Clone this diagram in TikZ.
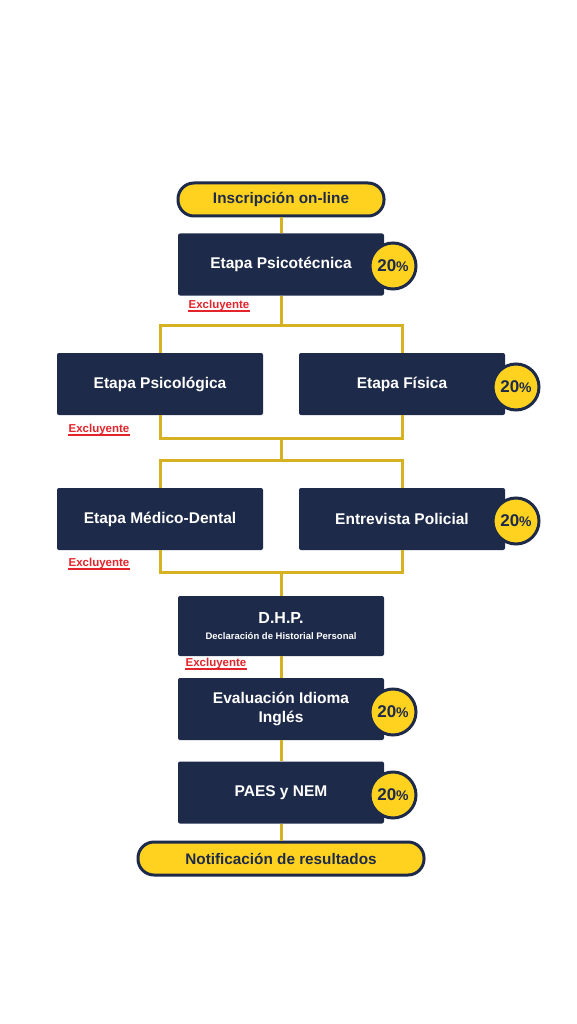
\documentclass[tikz,border=0pt]{standalone}
\usepackage{fontspec}
\setmainfont{Liberation Sans}
\usetikzlibrary{positioning,calc}

\definecolor{navy}{HTML}{1E2A4A}
\definecolor{gold}{HTML}{FFD21F}
\definecolor{linegold}{HTML}{D6B223}
\definecolor{exred}{HTML}{E3242B}

\tikzset{
  stage/.style={fill=navy,text=white,font=\bfseries\fontsize{15.5}{18}\selectfont,
    minimum width=206pt,minimum height=62pt,rounded corners=2pt,align=center,inner sep=0pt},
  pill/.style={fill=gold,draw=navy,line width=3pt,rounded corners=16pt,text=navy,
    font=\bfseries\fontsize{15.3}{17}\selectfont,minimum height=33pt,inner sep=0pt},
  pct/.style={circle,fill=gold,draw=navy,line width=3pt,minimum size=46pt,inner sep=0pt,
    text=navy,font=\bfseries\fontsize{17}{19}\selectfont},
  excl/.style={text=exred,font=\bfseries\fontsize{11.5}{12}\selectfont,inner sep=0pt},
  exline/.style={exred,line width=1.3pt},
  link/.style={linegold,line width=3pt}
}

\newcommand{\pcent}{20{\fontsize{14}{16}\selectfont\%}}

\begin{document}
\begin{tikzpicture}[x=1pt,y=-1pt]
  \useasboundingbox[fill=white] (0,0) rectangle (576,1024);

  % etapas
  \node[pill,minimum width=206pt] (insc) at (281,199.5) {Inscripción on-line};
  \node[stage] (psicot) at (281,264.5) {Etapa Psicotécnica};
  \node[stage] (psicol) at (160,384) {Etapa Psicológica};
  \node[stage] (fisica) at (402,384) {Etapa Física};
  \node[stage] (medico) at (160,519) {Etapa Médico-Dental};
  \node[stage] (entrev) at (402,519) {Entrevista Policial};
  \node[stage,minimum height=60pt] (dhp) at (281,626)
    {{\fontsize{16}{18}\selectfont D.H.P.}\\[-2pt]{\fontsize{9.5}{11}\selectfont Declaración de Historial Personal}};
  \node[stage,font=\bfseries\fontsize{15.5}{19}\selectfont] (idioma) at (281,709) {Evaluación Idioma\\Inglés};
  \node[stage] (paes) at (281,792.5) {PAES y NEM};
  \node[pill,minimum width=286pt] (notif) at (281,858.5) {Notificación de resultados};

  % puntos de union
  \coordinate (b1) at (281,325);
  \coordinate (b2) at (281,438);
  \coordinate (b3) at (281,460);
  \coordinate (b4) at (281,572);

  \draw[link] (insc) -- (psicot);
  \draw[link] (psicot) -- (b1);
  \draw[link] (psicol.north) |- (b1) -| (fisica.north);
  \draw[link] (psicol.south) |- (b2) -| (fisica.south);
  \draw[link] (b2) -- (b3);
  \draw[link] (medico.north) |- (b3) -| (entrev.north);
  \draw[link] (medico.south) |- (b4) -| (entrev.south);
  \draw[link] (b4) -- (dhp);
  \draw[link] (dhp) -- (idioma);
  \draw[link] (idioma) -- (paes);
  \draw[link] (paes) -- (notif);

  % porcentajes
  \node[pct] (p1) at (393,266) {\pcent};
  \node[pct] (p2) at (516,387) {\pcent};
  \node[pct] (p3) at (516,521) {\pcent};
  \node[pct] (p4) at (393,712) {\pcent};
  \node[pct] (p5) at (393,795) {\pcent};

  % excluyente
  \node[excl] (e1) at (219,306) {Excluyente};
  \node[excl] (e2) at (99,430) {Excluyente};
  \node[excl] (e3) at (99,564) {Excluyente};
  \node[excl] (e4) at (216,664) {Excluyente};
  \foreach \e in {e1,e2,e3,e4}
    \draw[exline] ($(\e.base west)+(0,2)$) -- ($(\e.base east)+(0,2)$);
\end{tikzpicture}
\end{document}
